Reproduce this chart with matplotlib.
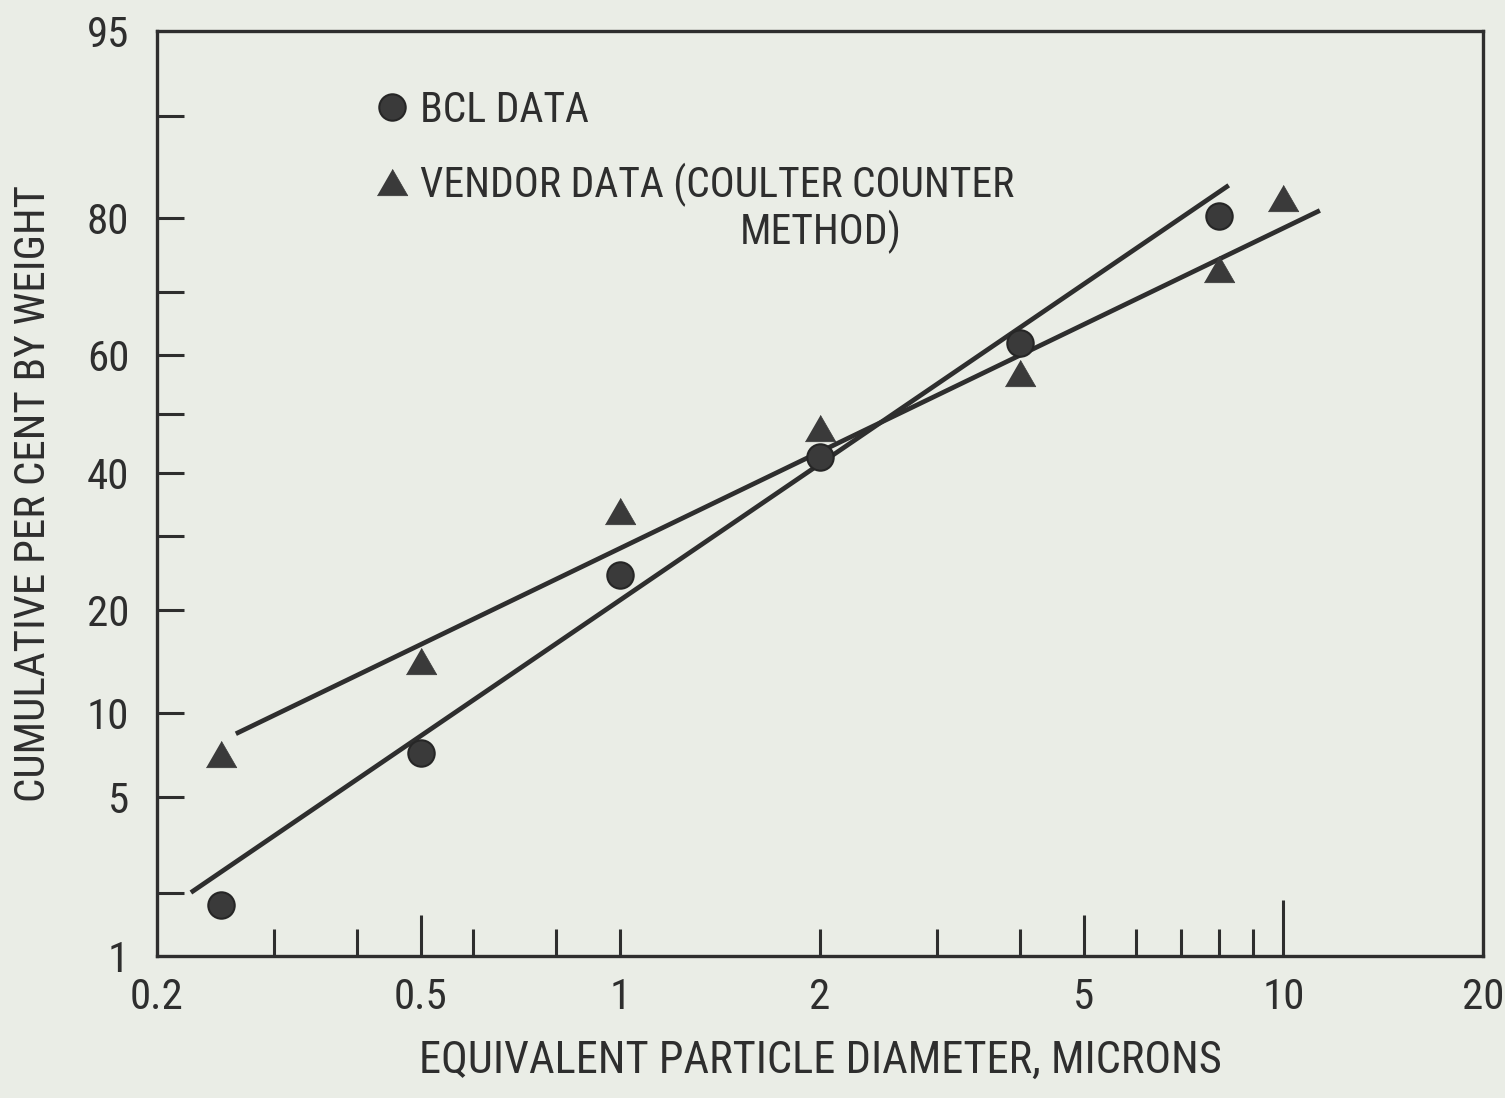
import math
import numpy as np
import matplotlib
matplotlib.use('Agg')
import matplotlib.pyplot as plt
from matplotlib import font_manager as fm
from matplotlib.ticker import FixedLocator, FixedFormatter, NullLocator, NullFormatter

# ---------------- data ----------------
bcl_diam = [0.25, 0.5, 1, 2, 4, 8]
bcl_pct = [1.75, 7.3, 24.5, 42.7, 62.0, 80.2]
vendor_diam = [0.25, 0.5, 1, 2, 4, 8, 10]
vendor_pct = [7.2, 14.5, 33.9, 47.6, 57.0, 73.3, 82.3]
bcl_fit_diam = [0.225, 8.27]
bcl_fit_pct = [2.0, 83.7]
vendor_fit_diam = [0.263, 11.35]
vendor_fit_pct = [8.5, 80.9]

x_ticks = [0.2, 0.5, 1, 2, 5, 10, 20]
x_tick_labels = ['0.2', '0.5', '1', '2', '5', '10', '20']
x_minor_ticks = [0.3, 0.4, 0.6, 0.8, 3, 4, 6, 7, 8, 9]
y_ticks = [1, 2, 5, 10, 20, 30, 40, 50, 60, 70, 80, 90, 95]
y_tick_labels = ['1', '', '5', '10', '20', '', '40', '', '60', '', '80', '', '95']

legend_labels = ['BCL DATA', 'VENDOR DATA (COULTER COUNTER']
legend_extra = 'METHOD)'
x_label = 'EQUIVALENT PARTICLE DIAMETER, MICRONS'
y_label = 'CUMULATIVE PER CENT BY WEIGHT'

# ---------------- fonts ----------------
def pick(names):
    for n in names:
        try:
            fm.findfont(fm.FontProperties(family=n), fallback_to_default=False)
            return n
        except Exception:
            pass
    return 'DejaVu Sans'

FONT = pick(['Liberation Sans Narrow', 'Roboto Condensed', 'DejaVu Sans'])
plt.rcParams['font.family'] = [FONT, 'DejaVu Sans']

# ---------------- probability scale ----------------
_a = [-3.969683028665376e+01, 2.209460984245205e+02, -2.759285104469687e+02,
      1.383577518672690e+02, -3.066479806614716e+01, 2.506628277459239e+00]
_b = [-5.447609879822406e+01, 1.615858368580409e+02, -1.556989798598866e+02,
      6.680131188771972e+01, -1.328068155288572e+01]
_c = [-7.784894002430293e-03, -3.223964580411365e-01, -2.400758277161838e+00,
      -2.549732539343734e+00, 4.374664141464968e+00, 2.938163982698783e+00]
_d = [7.784695709041462e-03, 3.224671290700398e-01, 2.445134137142996e+00,
      3.754408661907416e+00]


def ndtri(p):
    arr = np.asarray(p, dtype=float)
    shape = arr.shape
    p1 = np.clip(np.atleast_1d(arr).ravel(), 1e-12, 1 - 1e-12)
    out = np.empty_like(p1)
    plow = 0.02425
    lo = p1 < plow
    hi = p1 > 1 - plow
    mid = ~(lo | hi)
    q = np.sqrt(-2 * np.log(p1[lo]))
    out[lo] = (((((_c[0]*q+_c[1])*q+_c[2])*q+_c[3])*q+_c[4])*q+_c[5]) / \
              ((((_d[0]*q+_d[1])*q+_d[2])*q+_d[3])*q+1)
    q = np.sqrt(-2 * np.log(1 - p1[hi]))
    out[hi] = -(((((_c[0]*q+_c[1])*q+_c[2])*q+_c[3])*q+_c[4])*q+_c[5]) / \
               ((((_d[0]*q+_d[1])*q+_d[2])*q+_d[3])*q+1)
    q = p1[mid] - 0.5
    r = q * q
    out[mid] = (((((_a[0]*r+_a[1])*r+_a[2])*r+_a[3])*r+_a[4])*r+_a[5])*q / \
               (((((_b[0]*r+_b[1])*r+_b[2])*r+_b[3])*r+_b[4])*r+1)
    return out.reshape(shape)


_erf = np.vectorize(math.erf, otypes=[float])


def fwd(pct):
    return ndtri(np.asarray(pct, dtype=float) / 100.0)


def inv(z):
    z = np.asarray(z, dtype=float)
    return 50.0 * (1.0 + _erf(z / math.sqrt(2.0)))


# ---------------- figure ----------------
BG = '#eaede6'
INK = '#2e2e2e'
MK = '#3a3a3a'

fig = plt.figure(figsize=(15.05, 10.98), dpi=100, facecolor=BG)
W, H = 1505, 1098
L, R, T, B = 157, 1483, 31, 956
ax = fig.add_axes([L / W, 1 - B / H, (R - L) / W, (B - T) / H])
ax.set_facecolor(BG)

ax.set_xscale('log')
ax.set_yscale('function', functions=(fwd, inv))
ax.set_xlim(0.2, 20)
ax.set_ylim(1, 95)

tri = [(-1, -0.866), (1, -0.866), (0, 0.866)]

ax.plot(bcl_fit_diam, bcl_fit_pct, color=INK, lw=3.4, solid_capstyle='butt', zorder=2)
ax.plot(vendor_fit_diam, vendor_fit_pct, color=INK, lw=3.4, solid_capstyle='butt', zorder=2)
h1, = ax.plot(bcl_diam, bcl_pct, linestyle='none', marker='o', ms=19, mfc=MK,
              mec='#262626', mew=1.5, zorder=3)
h2, = ax.plot(vendor_diam, vendor_pct, linestyle='none', marker=tri, ms=22, mfc=MK,
              mec=MK, mew=0.5, zorder=3)

FS = 30
leg = ax.legend([h1, h2], legend_labels, loc='upper left',
                bbox_to_anchor=((373 - L) / (R - L), 1 - (90 - T) / (B - T)),
                borderpad=0, borderaxespad=0, frameon=False, fontsize=FS,
                handlelength=0.9, handletextpad=0.22, labelspacing=0.76,
                labelcolor=INK)
ax.text((740 - L) / (R - L), 1 - (232 - T) / (B - T), legend_extra,
        transform=ax.transAxes, ha='left', va='center', fontsize=FS, color=INK)

# spines
for s in ax.spines.values():
    s.set_linewidth(2.4)
    s.set_color(INK)

# ticks
ax.xaxis.set_major_locator(FixedLocator(x_ticks))
ax.xaxis.set_major_formatter(FixedFormatter(x_tick_labels))
ax.xaxis.set_minor_locator(FixedLocator(x_minor_ticks))
ax.xaxis.set_minor_formatter(NullFormatter())
ax.yaxis.set_major_locator(FixedLocator(y_ticks))
ax.yaxis.set_major_formatter(FixedFormatter(y_tick_labels))
ax.yaxis.set_minor_locator(NullLocator())

ax.tick_params(axis='both', which='both', direction='in', color=INK, width=2.2,
               labelcolor=INK, labelsize=31, top=False, right=False)
ax.tick_params(axis='x', which='both', length=19.5, pad=15)
ax.tick_params(axis='y', which='both', length=19.5, pad=20)

ax.set_xlabel(x_label, fontsize=32, color=INK, labelpad=16)
ax.set_ylabel(y_label, fontsize=31, color=INK, labelpad=24)

fig.canvas.draw()
x_len = {0.5: 29.5, 5: 29.5, 10: 40.0}
for tick, val in zip(ax.xaxis.get_major_ticks(), x_ticks):
    tick.tick1line.set_markersize(x_len.get(val, 19.5))
    if val in (0.2, 20):
        tick.tick1line.set_visible(False)
for tick, val in zip(ax.yaxis.get_major_ticks(), y_ticks):
    if val in (1, 95):
        tick.tick1line.set_visible(False)

fig.savefig('out.png', dpi=100, facecolor=BG)
